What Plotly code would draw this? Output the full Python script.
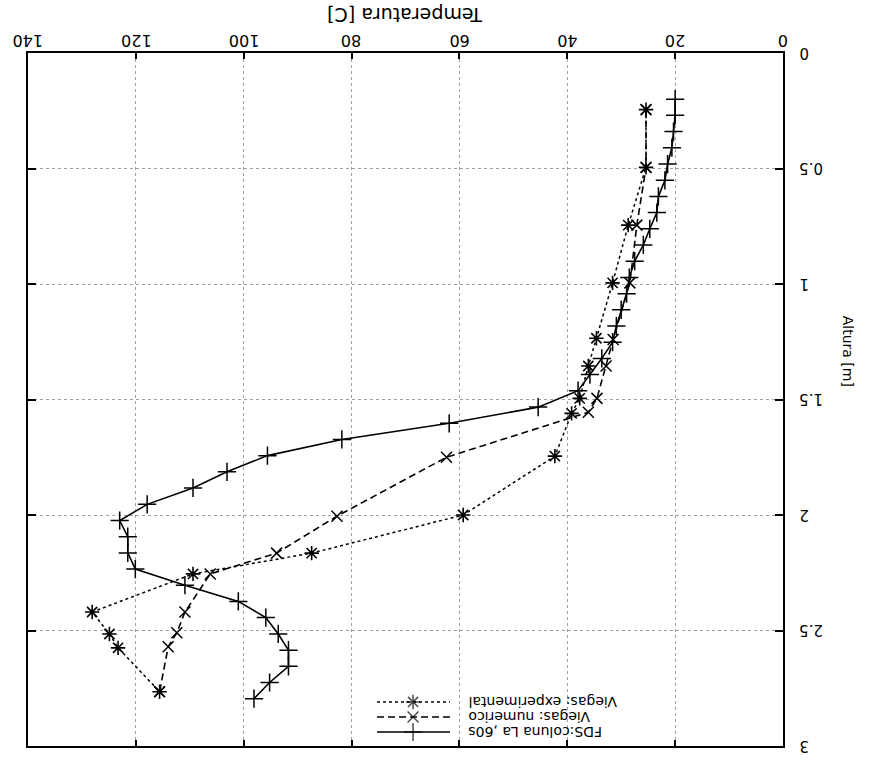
import plotly.graph_objects as go

# ---------------- data ----------------
# FDS: coluna La, 60s  (height [m], temperature [C])
fds_h = [0.200, 0.270, 0.340, 0.410, 0.481, 0.551, 0.621, 0.691, 0.761, 0.831,
         0.901, 0.972, 1.042, 1.112, 1.182, 1.252, 1.322, 1.392, 1.462, 1.533,
         1.603, 1.673, 1.743, 1.813, 1.883, 1.954, 2.024, 2.094, 2.164, 2.234,
         2.304, 2.374, 2.444, 2.515, 2.585, 2.655, 2.725, 2.795]
fds_t = [20.0, 20.0, 20.3, 20.6, 21.4, 21.9, 23.1, 23.4, 24.7, 25.9,
         27.5, 28.5, 29.0, 30.0, 30.9, 31.6, 33.6, 35.8, 38.0, 45.4,
         61.9, 81.8, 95.6, 103.1, 109.4, 117.9, 123.0, 121.5, 121.5, 120.1,
         110.9, 101.0, 95.9, 93.6, 91.7, 91.7, 95.2, 98.1]

# Viegas: numerico
num_h = [0.245, 0.495, 0.745, 0.995, 1.240, 1.355, 1.495, 1.555,
         1.750, 2.005, 2.165, 2.255, 2.420, 2.510, 2.570, 2.765]
num_t = [25.4, 25.4, 27.1, 28.4, 31.5, 32.8, 34.5, 36.1,
         62.4, 82.7, 93.9, 106.2, 110.9, 112.4, 114.0, 115.6]

# Viegas: experimental
exp_h = [0.245, 0.495, 0.745, 0.995, 1.235, 1.355, 1.495, 1.560,
         1.745, 2.000, 2.165, 2.255, 2.420, 2.515, 2.575, 2.765]
exp_t = [25.4, 25.4, 28.7, 31.6, 34.6, 36.1, 37.7, 39.2,
         42.3, 59.3, 87.4, 109.4, 128.1, 124.9, 123.3, 115.6]

x_ticks = [0, 20, 40, 60, 80, 100, 120, 140]
x_ticktext = ["0", "20", "40", "60", "80", "100", "120", "140"]
y_ticks = [0, 0.5, 1, 1.5, 2, 2.5, 3]
y_ticktext = ["0", "0.5", "1", "1.5", "2", "2.5", "3"]

legend_names = ["Viegas: experimental", "Viegas: numerico", "FDS:coluna La ,60s"]

FONT = "DejaVu Sans, Liberation Sans, Arial, sans-serif"

fig = go.Figure()

fig.add_trace(go.Scatter(
    x=fds_t, y=fds_h, mode="lines+markers",
    line=dict(color="black", width=1.6),
    marker=dict(symbol="cross-thin-open", size=13, color="black",
                line=dict(color="black", width=1.5)),
    showlegend=False))
fig.add_trace(go.Scatter(
    x=num_t, y=num_h, mode="lines+markers",
    line=dict(color="black", width=1.6, dash="7px,4px"),
    marker=dict(symbol="x-thin-open", size=11, color="black",
                line=dict(color="black", width=1.5)),
    showlegend=False))
fig.add_trace(go.Scatter(
    x=exp_t, y=exp_h, mode="lines+markers",
    line=dict(color="black", width=1.5, dash="3px,3px"),
    marker=dict(symbol="asterisk-open", size=12, color="black",
                line=dict(color="black", width=1.6)),
    showlegend=False))

# ----- legend (drawn upside down, as in the reference) -----
leg_y = [0.0635, 0.0418, 0.0202]
leg_styles = [
    (dict(color="black", width=1.5, dash="3px,3px"), "asterisk-open", 12),
    (dict(color="black", width=1.6, dash="7px,4px"), "x-thin-open", 11),
    (dict(color="black", width=1.6), "cross-thin-open", 13),
]
for yy, (ln, sym, sz), name in zip(leg_y, leg_styles, legend_names):
    fig.add_trace(go.Scatter(
        x=[0.4623, 0.51, 0.5589], y=[yy, yy, yy], xaxis="x2", yaxis="y2",
        mode="lines+markers", line=ln,
        marker=dict(symbol=sym, size=[0, sz, 0], color="black",
                    line=dict(color="black", width=1.5)),
        showlegend=False, hoverinfo="skip"))
    fig.add_annotation(x=0.5815, y=yy, xref="paper", yref="paper",
                       text=name, textangle=180, showarrow=False,
                       xanchor="left", yanchor="middle", borderpad=0,
                       font=dict(family=FONT, size=14, color="black"))

# x tick labels (upside down, above the top border)
for v, t in zip(x_ticks, x_ticktext):
    fig.add_annotation(x=v, y=1.018, xref="x", yref="paper",
                       text=t, textangle=180, showarrow=False,
                       xanchor="center", yanchor="middle", borderpad=0,
                       font=dict(family=FONT, size=16, color="black"))

# y tick labels (upside down, left-aligned next to the right border)
for v, t in zip(y_ticks, y_ticktext):
    fig.add_annotation(x=1.0185, y=v, xref="paper", yref="y",
                       text=t, textangle=180, showarrow=False,
                       xanchor="left", yanchor="middle",
                       font=dict(family=FONT, size=15, color="black"))

# axis titles
fig.add_annotation(x=0.5, y=1.055, xref="paper", yref="paper",
                   text="Temperatura [C]", textangle=180, showarrow=False,
                   xanchor="center", yanchor="middle", borderpad=0,
                   font=dict(family=FONT, size=19, color="black"))
fig.add_annotation(x=1.086, y=0.569, xref="paper", yref="paper",
                   text="Altura [m]", textangle=90, showarrow=False,
                   xanchor="center", yanchor="middle",
                   font=dict(family=FONT, size=14, color="black"))

axis_common = dict(
    showline=True, linecolor="black", linewidth=2, mirror="allticks",
    ticks="inside", tickcolor="black", tickwidth=1.5,
    showgrid=True, gridcolor="#a0a0a0", gridwidth=1, griddash="dot",
    zeroline=False, showticklabels=False, automargin=False,
)

fig.update_layout(
    width=887, height=758,
    margin=dict(l=28, r=104, t=53, b=12, autoexpand=False),
    paper_bgcolor="white", plot_bgcolor="white",
    font=dict(family=FONT, color="black"),
    xaxis=dict(range=[140, 0], side="top", tickvals=x_ticks, ticklen=6,
               **axis_common),
    yaxis=dict(range=[3, 0], side="right", tickvals=y_ticks, ticklen=8,
               **axis_common),
    xaxis2=dict(overlaying="x", range=[0, 1], visible=False),
    yaxis2=dict(overlaying="y", range=[0, 1], visible=False),
    showlegend=False,
)

fig.write_html("out.html")
